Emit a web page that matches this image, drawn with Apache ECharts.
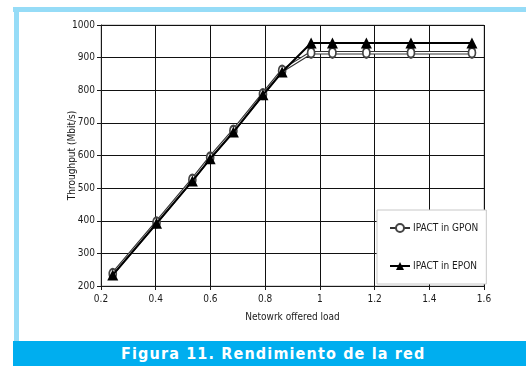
<!DOCTYPE html>
<html>
<head>
<meta charset="utf-8">
<script src="https://cdn.jsdelivr.net/npm/echarts@6/dist/echarts.min.js"></script>
<style>
  html, body { margin: 0; padding: 0; background: #fff; }
  #wrap { position: relative; width: 526px; height: 366px; overflow: hidden; }
  #chart { position: absolute; left: 0; top: 0; width: 526px; height: 366px; }
  .frame-top { position: absolute; left: 13px; top: 7px; width: 513px; height: 5px; background: #96dcf7; }
  .frame-left { position: absolute; left: 14px; top: 7px; width: 5px; height: 334px; background: #96dcf7; }
  .banner { position: absolute; left: 13px; top: 341px; width: 513px; height: 25px; background: #00aeef;
            color: #fff; font-family: 'DejaVu Sans Condensed', 'DejaVu Sans', sans-serif;
            font-weight: bold; font-stretch: condensed; font-size: 16px; line-height: 26px; letter-spacing: 1.15px; }
  .banner span { position: absolute; left: 108px; top: 0; white-space: nowrap; }
</style>
</head>
<body>
<div id="wrap">
  <div class="frame-top"></div>
  <div class="frame-left"></div>
  <div id="chart"></div>
  <div class="banner"><span>Figura 11. Rendimiento de la red</span></div>
</div>
<script>
// Offered load (x) and throughput in Mbit/s (y) for each scheme
const loadGPON = [0.243, 0.403, 0.534, 0.599, 0.684, 0.792, 0.862, 0.968, 1.046, 1.170, 1.333, 1.556];
const thrGPON  = [237, 395, 526, 594, 676, 788, 860, 915, 915, 915, 915, 915];
const loadEPON = [0.243, 0.403, 0.534, 0.599, 0.684, 0.792, 0.862, 0.968, 1.046, 1.170, 1.333, 1.556];
const thrEPON  = [234, 392, 522, 590, 672, 786, 856, 945, 945, 945, 945, 945];
const seriesNames = ['IPACT in GPON', 'IPACT in EPON'];
const xTitle = 'Netowrk offered load';
const yTitle = 'Throughput (Mbit/s)';

const pairs = (xs, ys) => xs.map((x, i) => [x, ys[i]]);
const font = "'DejaVu Sans Condensed', 'DejaVu Sans', sans-serif";
const ink = '#1a1a1a';

const chart = echarts.init(document.getElementById('chart'), null, { renderer: 'canvas' });
chart.setOption({
  animation: false,
  backgroundColor: 'transparent',
  grid: { left: 101, right: 42, top: 25, bottom: 80, show: true, borderColor: '#aaa', borderWidth: 1 },
  xAxis: {
    type: 'value', min: 0.2, max: 1.6, interval: 0.2,
    name: xTitle, nameLocation: 'middle', nameGap: 26, nameMoveOverlap: false,
    nameTextStyle: { fontFamily: font, fontSize: 10, color: ink },
    axisLine: { show: true, lineStyle: { color: ink, width: 1 } },
    axisTick: { show: true, length: 4, lineStyle: { color: ink } },
    axisLabel: { fontFamily: font, fontSize: 10, color: ink, margin: 8,
      formatter: v => String(Math.round(v * 10) / 10) },
    splitLine: { show: true, lineStyle: { color: '#111', width: 1 } }
  },
  yAxis: {
    type: 'value', min: 200, max: 1000, interval: 100,
    name: yTitle, nameLocation: 'middle', nameGap: 24, nameRotate: 90, nameMoveOverlap: false,
    nameTextStyle: { fontFamily: font, fontSize: 10, color: ink },
    axisLine: { show: true, lineStyle: { color: ink, width: 1 } },
    axisTick: { show: true, length: 4, lineStyle: { color: ink } },
    axisLabel: { fontFamily: font, fontSize: 10, color: ink, margin: 6,
      formatter: v => String(v) },
    splitLine: { show: true, lineStyle: { color: '#111', width: 1 } }
  },
  legend: {
    orient: 'vertical', left: 377, top: 210,
    padding: [13, 8, 13, 12], itemGap: 28,
    backgroundColor: '#fff', borderColor: '#c8c8c8', borderWidth: 1,
    itemWidth: 20, itemHeight: 10,
    textStyle: { fontFamily: font, fontSize: 10, color: ink, padding: [0, 0, 0, -2] },
    data: seriesNames
  },
  series: [
    { // GPON curve: dark outline with a light core, circles on top
      name: seriesNames[0], type: 'line', data: pairs(loadGPON, thrGPON),
      symbol: 'emptyCircle', symbolSize: [7, 10], z: 2, showSymbol: false,
      itemStyle: { color: '#444', borderColor: '#444', borderWidth: 1 },
      lineStyle: { color: '#333', width: 3.5 }
    },
    {
      name: 'gpon-core', type: 'line', data: pairs(loadGPON, thrGPON),
      symbol: 'none', z: 3, silent: true,
      lineStyle: { color: '#fff', width: 1.3 }
    },
    {
      name: 'gpon-marks', type: 'line', data: pairs(loadGPON, thrGPON),
      symbol: 'emptyCircle', symbolSize: [7, 10], z: 4, silent: true,
      itemStyle: { color: '#444', borderColor: '#444', borderWidth: 1 },
      lineStyle: { width: 0, opacity: 0 }
    },
    {
      name: seriesNames[1], type: 'line', data: pairs(loadEPON, thrEPON),
      symbol: 'triangle', symbolSize: [11, 11], z: 5,
      itemStyle: { color: '#000' },
      lineStyle: { color: '#000', width: 2 }
    }
  ]
});
</script>
</body>
</html>
